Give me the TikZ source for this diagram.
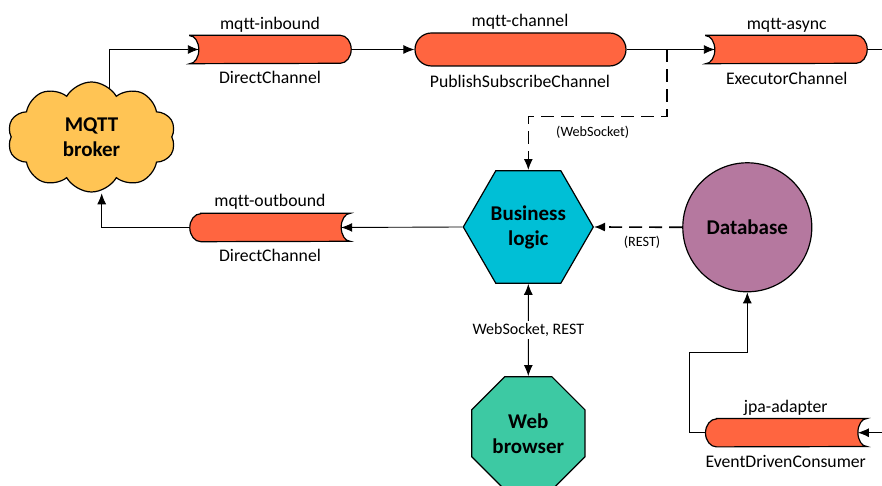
\documentclass[tikz,border=0pt]{standalone}
\usepackage{fontspec}
\setmainfont{Carlito}[Ligatures=NoCommon]
\usetikzlibrary{shapes.geometric,shapes.symbols,shapes.misc,arrows.meta,backgrounds}
\definecolor{cloudfill}{HTML}{FFC454}
\definecolor{pipefill}{HTML}{FF6540}
\definecolor{hexfill}{HTML}{00BFD6}
\definecolor{dbfill}{HTML}{B5789F}
\definecolor{octfill}{HTML}{3DC9A3}
\tikzset{
  lbl/.style={inner sep=0pt, font=\fontsize{17.7}{21}\selectfont},
  small/.style={inner sep=0pt, font=\fontsize{14.2}{17}\selectfont},
  bigbold/.style={align=center, font=\fontsize{21}{25}\selectfont\bfseries},
  pipenode/.style={draw=none, inner sep=0pt, minimum height=28pt},
  pipe/.style={draw=black, line width=1.2pt, fill=pipefill},
  conn/.style={line width=0.9pt, -{Latex[length=11pt,width=9pt]}},
  dconn/.style={line width=1.6pt, dash pattern=on 13pt off 7pt, -{Latex[length=11pt,width=9pt]}},
}
\newcommand\pipeLR[1]{%
  \draw[pipe] (#1.north west) -- ([xshift=-11pt]#1.north east)
    arc[start angle=90,end angle=-90,x radius=11pt,y radius=14pt]
    -- (#1.south west)
    arc[start angle=-90,end angle=90,x radius=9pt,y radius=14pt] -- cycle;}
\newcommand\pipeRL[1]{%
  \draw[pipe] ([xshift=11pt]#1.north west) -- (#1.north east)
    arc[start angle=90,end angle=270,x radius=9pt,y radius=14pt]
    -- ([xshift=11pt]#1.south west)
    arc[start angle=-90,end angle=-270,x radius=11pt,y radius=14pt] -- cycle;}
\begin{document}
\begin{tikzpicture}[x=1pt,y=1pt]
\useasboundingbox (0,0) rectangle (882,486);
% nodes
\node[cloud, cloud puffs=10, cloud puff arc=120, aspect=1.5, draw, line width=1.2pt,
  fill=cloudfill, minimum width=168pt, minimum height=110pt, inner sep=0pt, bigbold]
  (broker) at (91.5,349) {MQTT\\broker};
\node[pipenode, minimum width=161pt] (in) at (270.5,436.5) {};
\node[rounded rectangle, draw, line width=1.2pt, fill=pipefill, minimum width=211pt,
  minimum height=33pt, inner sep=0pt] (pub) at (520.5,436.5) {};
\node[pipenode, minimum width=161pt] (async) at (786.5,436.5) {};
\node[pipenode, minimum width=160pt] (out) at (270,258.5) {};
\node[pipenode, minimum width=161pt] (jpa) at (786.2,53.3) {};
\node[regular polygon, regular polygon sides=6, draw, line width=1.2pt, fill=hexfill,
  minimum size=130pt, inner sep=0pt, bigbold] (logic) at (528.3,259) {Business\\logic};
\node[circle, draw, line width=1.2pt, fill=dbfill, minimum size=129pt, inner sep=0pt,
  bigbold] (db) at (747.3,258.7) {Database};
\node[regular polygon, regular polygon sides=8, draw, line width=1.2pt, fill=octfill,
  minimum size=122.6pt, inner sep=0pt, bigbold] (web) at (528.3,52.7) {Web\\browser};
\pipeLR{in}
\pipeLR{async}
\pipeRL{out}
\pipeRL{jpa}
% labels
\node[lbl] (l1) at (270,461) {mqtt-inbound};
\node[lbl] (l2) at (270,408.5) {DirectChannel};
\node[lbl] (l3) at (520,464.3) {mqtt-channel};
\node[lbl] (l4) at (520,404.3) {PublishSubscribeChannel};
\node[lbl] (l5) at (786.7,461) {mqtt-async};
\node[lbl] (l6) at (786.7,408) {ExecutorChannel};
\node[lbl] (l7) at (270,284.3) {mqtt-outbound};
\node[lbl] (l8) at (270,231) {DirectChannel};
\node[lbl] (l9) at (785.7,78.3) {jpa-adapter};
\node[lbl] (l10) at (785.7,24.3) {EventDrivenConsumer};
\node[small] (ws) at (592.7,353.3) {(WebSocket)};
\node[small] (rest) at (642,243.3) {(REST)};
% free ends
\coordinate (brokerUp) at (109.3,360);
\coordinate (brokerDown) at (101.7,292.7);
\coordinate (edge1) at (882,436.5);
\coordinate (edge2) at (882,53.3);
\coordinate (split) at (666.7,436.5);
\coordinate (splitLow) at (666.7,369.3);
\coordinate (bend) at (689.3,134);
\begin{scope}[on background layer]
\draw[conn] (brokerUp) |- ([xshift=9pt]in.west);
\draw[conn] (in.east) -- (pub.west);
\draw[conn] (pub.east) -- ([xshift=9pt]async.west);
\draw[line width=0.9pt] (async.east) -- (edge1);
\draw[dconn] (split) -- (splitLow) -| (logic.north);
\draw[conn] (logic.west) -- ([xshift=-9pt]out.east);
\draw[conn] (out.west) -| (brokerDown);
\draw[dconn] (db.west) -- (logic.east);
\draw[line width=0.9pt, {Latex[length=11pt,width=9pt]}-{Latex[length=11pt,width=9pt]}]
  (logic.south) -- node[fill=white, inner sep=2pt, font=\fontsize{16}{19}\selectfont] (wsr) {WebSocket, REST} (web.north);
\draw[conn] (edge2) -- ([xshift=-9pt]jpa.east);
\draw[conn] (jpa.west) -| (bend) -| (db.south);
\end{scope}
\end{tikzpicture}
\end{document}
